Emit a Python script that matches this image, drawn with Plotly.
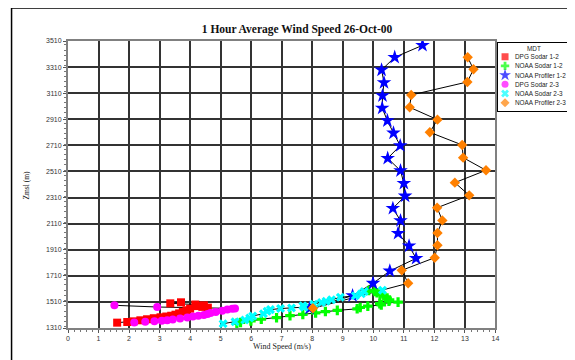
import plotly.graph_objects as go

# ---------------- data ----------------
dpg12_x = [1.61, 1.94, 2.15, 2.37, 2.59, 2.81, 3.03, 3.22, 3.38, 3.52, 3.64, 3.76, 3.88, 4.00, 4.58, 4.40, 4.24, 4.45, 4.17, 3.35, 3.70]
dpg12_z = [1351, 1356, 1361, 1369, 1377, 1385, 1392, 1398, 1404, 1412, 1422, 1434, 1446, 1458, 1466, 1472, 1478, 1484, 1490, 1499, 1507]

noaa_sod12_x = [5.53, 5.65, 5.99, 6.33, 6.83, 7.27, 7.69, 8.11, 8.43, 8.82, 9.47, 9.57, 9.82, 10.26, 10.21, 10.81, 10.51, 10.53, 10.45, 10.34, 10.22, 10.12, 10.05, 9.85]
noaa_sod12_z = [1346, 1352, 1364, 1377, 1389, 1405, 1414, 1426, 1436, 1445, 1457, 1467, 1477, 1487, 1497, 1508, 1515, 1525, 1540, 1555, 1568, 1580, 1590, 1598]

noaa_prof12_x = [7.91, 9.32, 9.99, 10.54, 11.40, 11.17, 10.81, 10.89, 10.64, 11.04, 11.00, 10.89, 10.47, 10.88, 10.66, 10.46, 10.29, 10.30, 10.35, 10.27, 10.70, 11.61]
noaa_prof12_z = [1461, 1558, 1653, 1747, 1844, 1939, 2036, 2133, 2227, 2322, 2419, 2516, 2611, 2708, 2805, 2899, 2996, 3091, 3191, 3288, 3385, 3477]

dpg23_x = [2.17, 2.53, 2.83, 3.07, 3.25, 3.43, 3.67, 3.91, 4.09, 4.27, 4.45, 4.57, 4.67, 4.84, 5.05, 5.22, 5.38, 5.47, 2.92, 1.52]
dpg23_z = [1352, 1357, 1361, 1365, 1370, 1376, 1383, 1391, 1398, 1404, 1410, 1417, 1425, 1433, 1443, 1451, 1457, 1460, 1471, 1484]

noaa_sod23_x = [5.08, 5.47, 5.79, 5.95, 6.05, 6.40, 6.52, 6.63, 6.96, 7.32, 7.73, 7.69, 8.05, 8.30, 8.45, 8.63, 8.92, 9.41, 9.61, 9.70, 10.30]
noaa_sod23_z = [1343, 1358, 1372, 1387, 1402, 1420, 1438, 1451, 1459, 1464, 1470, 1480, 1492, 1505, 1515, 1527, 1545, 1557, 1572, 1590, 1600]

noaa_prof23_x = [8.02, 11.14, 10.93, 12.01, 12.10, 12.10, 12.26, 12.09, 13.14, 12.67, 13.69, 12.94, 12.91, 11.85, 12.10, 11.19, 11.24, 13.08, 13.28, 13.09]
noaa_prof23_z = [1461, 1653, 1752, 1849, 1944, 2038, 2135, 2232, 2327, 2424, 2519, 2616, 2713, 2810, 2907, 3002, 3096, 3196, 3293, 3385]

series_names = ["DPG Sodar 1-2", "NOAA Sodar 1-2", "NOAA Profiler 1-2",
                "DPG Sodar 2-3", "NOAA Sodar 2-3", "NOAA Profiler 2-3"]
legend_title = "MDT"
chart_title = "1 Hour Average Wind Speed 26-Oct-00"
x_title = "Wind Speed (m/s)"
y_title = "Zmsl (m)"
x_ticks = list(range(0, 15))
y_ticks = list(range(1310, 3511, 200))

# ---------------- styles ----------------
series_data = [(dpg12_x, dpg12_z), (noaa_sod12_x, noaa_sod12_z), (noaa_prof12_x, noaa_prof12_z),
               (dpg23_x, dpg23_z), (noaa_sod23_x, noaa_sod23_z), (noaa_prof23_x, noaa_prof23_z)]
colors = ["#ff0000", "#00ff00", "#0000ff", "#ff00ff", "#00ffff", "#ff8000"]
symbols = ["square", "cross", "star", "circle", "x", "diamond"]
sizes = [8, 8, 11, 8, 8, 8]

# the page body has an 8px margin; build the figure in window coordinates minus that offset
OFF = 8
W, H = 575 - OFF, 360 - OFF
PLOT_L, PLOT_R, PLOT_T, PLOT_B = 67.5, 495.4, 41, 328   # window px of the plot area
L = PLOT_L - OFF
T = PLOT_T - OFF
B = H - (PLOT_B - OFF)
R = 5
PW = W - L - R
PH = H - T - B
x_end = (PLOT_R - PLOT_L) / PW


def px_x(p):
    return (p - PLOT_L) / PW


def px_y(p):
    return (PLOT_B - p) / PH


fig = go.Figure()

for (xs, zs) in series_data:
    fig.add_trace(go.Scatter(x=xs, y=zs, mode="lines", line=dict(color="black", width=1),
                             showlegend=False, hoverinfo="skip"))
for (xs, zs), name, c, s, sz in zip(series_data, series_names, colors, symbols, sizes):
    fig.add_trace(go.Scatter(x=xs, y=zs, mode="markers", name=name,
                             marker=dict(color=c, symbol=s, size=sz, line=dict(width=0)),
                             showlegend=False))

# compact legend like the original
idx = list(range(len(series_names)))
fig.add_trace(go.Scatter(x=[0.094] * len(idx), y=idx, mode="markers", xaxis="x2", yaxis="y2",
                         marker=dict(color=colors, symbol=symbols, size=[7, 7, 9, 7, 7, 7], line=dict(width=0)),
                         showlegend=False, hoverinfo="skip"))

leg_font = dict(family="Liberation Sans, Arial", size=6.4, color="#222")
annotations = []
for i, name in zip(idx, series_names):
    annotations.append(dict(x=0.2, y=i, xref="x2", yref="y2", text=name, showarrow=False,
                            xanchor="left", yanchor="middle", font=leg_font))
annotations.append(dict(x=0.5, y=-0.84, xref="x2", yref="y2", text=legend_title, showarrow=False,
                        xanchor="center", yanchor="middle", font=leg_font))
annotations.append(dict(x=x_end / 2, y=px_y(347), xref="paper", yref="paper", text=x_title,
                        showarrow=False, xanchor="center", yanchor="middle",
                        font=dict(family="Liberation Serif, Times New Roman", size=8, color="#222")))
annotations.append(dict(x=px_x(25), y=px_y(185), xref="paper", yref="paper", text=y_title,
                        showarrow=False, xanchor="center", yanchor="middle", textangle=-90,
                        font=dict(family="Liberation Serif, Times New Roman", size=7.5, color="#222")))

grid_c = "#333333"
tick_font = dict(family="Liberation Sans, Arial", size=7, color="#333")

fig.update_layout(
    width=W, height=H,
    margin=dict(l=L, r=R, t=T, b=B, autoexpand=False),
    paper_bgcolor="white", plot_bgcolor="white",
    title=dict(text="<b>" + chart_title + "</b>", x=(297 - OFF) / W, xref="container", xanchor="center",
               y=1 - (29 - OFF) / H, yref="container", yanchor="middle",
               font=dict(family="Liberation Serif, Times New Roman", size=11.5, color="#111")),
    xaxis=dict(domain=[0, x_end], range=[0, 14], tickmode="array", tickvals=x_ticks,
               ticktext=[str(v) for v in x_ticks],
               showgrid=True, gridcolor=grid_c, gridwidth=1.5, zeroline=False,
               showline=True, linecolor="#808080", linewidth=2, mirror=True,
               ticks="outside", ticklen=3, tickcolor="#555", tickfont=tick_font,
               minor=dict(dtick=0.2, ticks="outside", ticklen=2, tickcolor="#777", showgrid=False)),
    yaxis=dict(range=[1310, 3510], tickmode="array", tickvals=y_ticks,
               ticktext=[str(v) for v in y_ticks],
               showgrid=True, gridcolor=grid_c, gridwidth=1.5, zeroline=False,
               showline=True, linecolor="#808080", linewidth=2, mirror=True,
               ticks="outside", ticklen=3, tickcolor="#555", tickfont=tick_font,
               minor=dict(dtick=40, ticks="outside", ticklen=2, tickcolor="#777", showgrid=False)),
    xaxis2=dict(domain=[px_x(498.3), px_x(569.3)], range=[0, 1], anchor="y2",
                showgrid=False, zeroline=False, showticklabels=False, ticks="",
                showline=True, linecolor="black", linewidth=1, mirror=True, fixedrange=True),
    yaxis2=dict(domain=[px_y(111), px_y(42.7)], range=[5.9, -1.52], anchor="x2",
                showgrid=False, zeroline=False, showticklabels=False, ticks="",
                showline=True, linecolor="black", linewidth=1, mirror=True, fixedrange=True),
    annotations=annotations,
    shapes=[dict(type="rect", xref="paper", yref="paper", x0=px_x(11), x1=1.3,
                 y0=-0.3, y1=px_y(8), line=dict(color="black", width=1.5), layer="below")],
    showlegend=False,
)

fig.write_html("out.html")
